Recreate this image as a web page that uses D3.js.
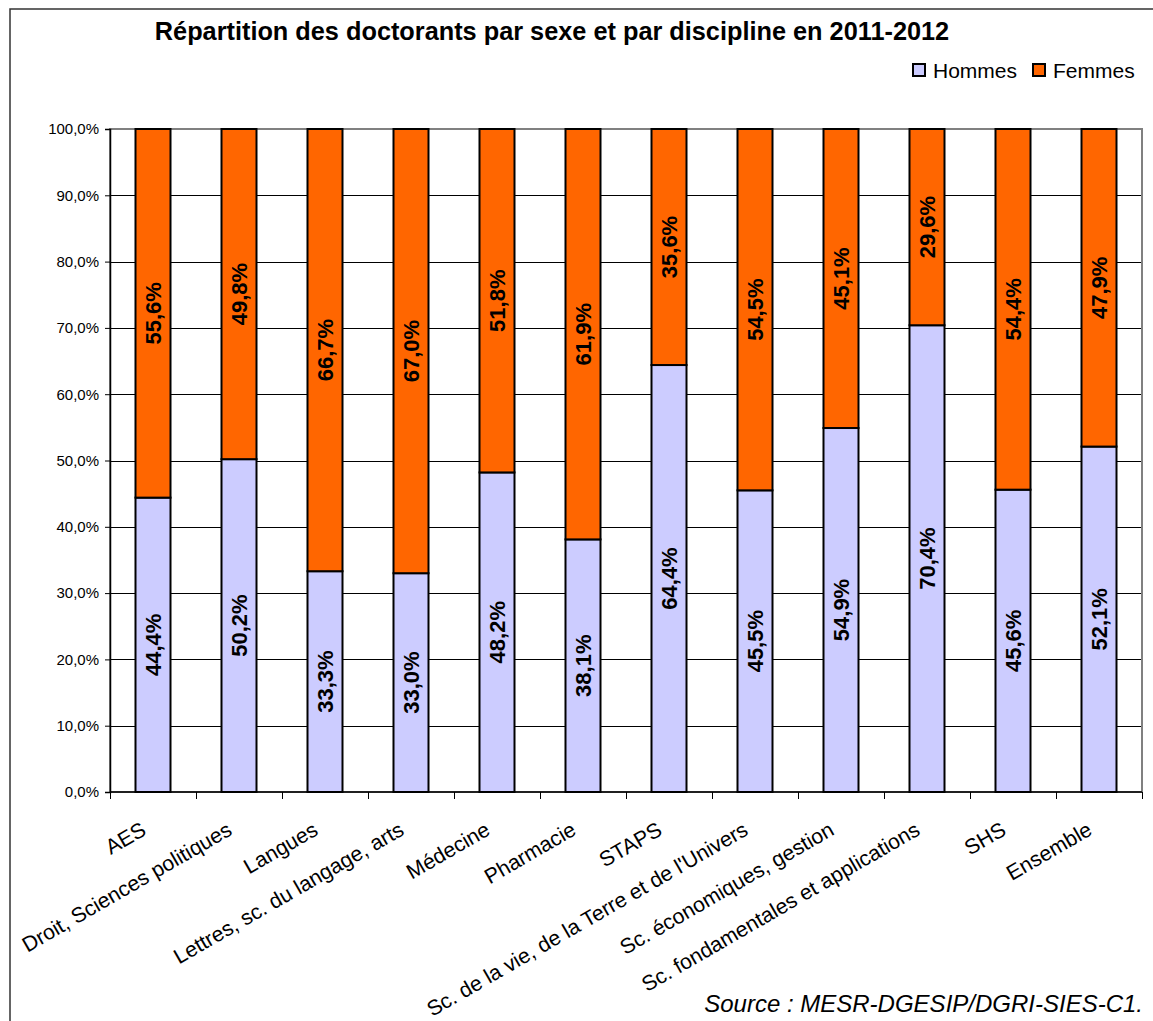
<!DOCTYPE html>
<html>
<head>
<meta charset="utf-8">
<script src="https://cdn.jsdelivr.net/npm/d3@7"></script>
<style>
  html, body { margin: 0; padding: 0; background: #fff; }
  svg { display: block; font-family: Arial, "Liberation Sans", sans-serif; }
</style>
</head>
<body>
<svg id="chart" width="1153" height="1021"></svg>
<script>
// Disciplines (x categories)
const disciplines = [
  "AES",
  "Droit, Sciences politiques",
  "Langues",
  "Lettres, sc. du langage, arts",
  "Médecine",
  "Pharmacie",
  "STAPS",
  "Sc. de la vie, de la Terre et de l'Univers",
  "Sc. économiques, gestion",
  "Sc. fondamentales et applications",
  "SHS",
  "Ensemble"
];
// Share of men / women (%)
const hommes = [44.4, 50.2, 33.3, 33.0, 48.2, 38.1, 64.4, 45.5, 54.9, 70.4, 45.6, 52.1];
const femmes = [55.6, 49.8, 66.7, 67.0, 51.8, 61.9, 35.6, 54.5, 45.1, 29.6, 54.4, 47.9];
const seriesNames = ["Hommes", "Femmes"];
const seriesColors = ["#CCCCFF", "#FF6600"];
const yTicks = [0, 10, 20, 30, 40, 50, 60, 70, 80, 90, 100];

const title = "Répartition des doctorants par sexe et par discipline en 2011-2012";
const source = "Source : MESR-DGESIP/DGRI-SIES-C1.";

const svg = d3.select("#chart");
const W = 1153, H = 1021;
const plot = { left: 110, right: 1142, top: 129, bottom: 792 };

const rows = disciplines.map((d, i) => ({ discipline: d, Hommes: hommes[i], Femmes: femmes[i] }));
const stacked = d3.stack().keys(seriesNames)(rows);

const x = d3.scaleBand().domain(disciplines).range([plot.left, plot.right]).paddingInner(0.593).paddingOuter(0.2965);
const xCat = d3.scaleBand().domain(disciplines).range([plot.left, plot.right]);
const y = d3.scaleLinear().domain([0, 100]).range([plot.bottom, plot.top]);
const fmt = v => d3.format(".1f")(v).replace(".", ",") + "%";

// Outer frame
svg.append("rect")
  .attr("x", 10).attr("y", 9).attr("width", W + 20).attr("height", H + 20)
  .attr("fill", "none").attr("stroke", "#333").attr("stroke-width", 1.5);

// Title
svg.append("text")
  .attr("x", 552).attr("y", 40)
  .attr("text-anchor", "middle")
  .style("font-size", "25.3px").style("font-weight", "bold")
  .text(title);

// Gridlines
svg.append("g")
  .selectAll("line")
  .data(yTicks.filter(t => t > 0 && t < 100))
  .join("line")
  .attr("x1", plot.left).attr("x2", plot.right)
  .attr("y1", d => Math.round(y(d)) + 0.5).attr("y2", d => Math.round(y(d)) + 0.5)
  .attr("stroke", "#000").attr("stroke-width", 1);

// Plot area border
svg.append("rect")
  .attr("x", plot.left).attr("y", plot.top)
  .attr("width", plot.right - plot.left).attr("height", plot.bottom - plot.top)
  .attr("fill", "none").attr("stroke", "#808080").attr("stroke-width", 2);

// Bars
const layers = svg.append("g").selectAll("g")
  .data(stacked)
  .join("g")
  .attr("fill", (d, i) => seriesColors[i]);

layers.selectAll("rect")
  .data(d => d.map(p => ({ p, key: d.key })))
  .join("rect")
  .attr("x", d => x(d.p.data.discipline))
  .attr("width", x.bandwidth())
  .attr("y", d => y(d.p[1]))
  .attr("height", d => y(d.p[0]) - y(d.p[1]))
  .attr("stroke", "#000").attr("stroke-width", 2);

// Value labels, rotated inside each segment
layers.selectAll("text")
  .data(d => d.map(p => ({ p, key: d.key })))
  .join("text")
  .attr("transform", d => {
    const cx = x(d.p.data.discipline) + x.bandwidth() / 2;
    const cy = (y(d.p[0]) + y(d.p[1])) / 2;
    return `translate(${cx},${cy}) rotate(-90)`;
  })
  .attr("text-anchor", "middle")
  .attr("dy", "0.36em")
  .attr("fill", "#000")
  .style("font-size", "22px").style("font-weight", "bold")
  .text(d => fmt(d.p.data[d.key]));

// Y axis
const yAxis = d3.axisLeft(y).tickValues(yTicks).tickSize(5).tickPadding(6)
  .tickFormat(d => d3.format(".1f")(d).replace(".", ",") + "%");
const gy = svg.append("g").attr("transform", `translate(${plot.left},0)`).call(yAxis);
gy.select(".domain").attr("stroke", "#000").attr("stroke-width", 1.5);
gy.selectAll(".tick line").attr("stroke", "#000");
gy.selectAll(".tick text").style("font-size", "15px").attr("fill", "#000").attr("font-family", "Arial, 'Liberation Sans', sans-serif");

// X axis: ticks at category boundaries
const boundaries = disciplines.map(d => xCat(d)).concat([plot.right]);
svg.append("line")
  .attr("x1", plot.left).attr("x2", plot.right)
  .attr("y1", plot.bottom).attr("y2", plot.bottom)
  .attr("stroke", "#000").attr("stroke-width", 1.5);
svg.append("g").selectAll("line")
  .data(boundaries)
  .join("line")
  .attr("x1", d => Math.round(d) + 0.5).attr("x2", d => Math.round(d) + 0.5)
  .attr("y1", plot.bottom).attr("y2", plot.bottom + 7)
  .attr("stroke", "#000");

// Category labels, rotated
svg.append("g").selectAll("text")
  .data(disciplines)
  .join("text")
  .attr("transform", d => `translate(${xCat(d) + xCat.bandwidth() / 2 - 13},${plot.bottom + 29}) rotate(-30)`)
  .attr("text-anchor", "end")
  .attr("dy", "0.7em")
  .style("font-size", "21.2px")
  .text(d => d);

// Legend
const legend = svg.append("g");
const legendX = [913, 1033];
seriesNames.forEach((name, i) => {
  legend.append("rect")
    .attr("x", legendX[i]).attr("y", 64).attr("width", 12).attr("height", 12)
    .attr("fill", seriesColors[i]).attr("stroke", "#000").attr("stroke-width", 2);
  legend.append("text")
    .attr("x", legendX[i] + 20).attr("y", 78)
    .style("font-size", "21px")
    .text(name);
});

// Source
svg.append("text")
  .attr("x", 1143).attr("y", 1012)
  .attr("text-anchor", "end")
  .style("font-size", "24px").style("font-style", "italic")
  .text(source);
</script>
</body>
</html>
